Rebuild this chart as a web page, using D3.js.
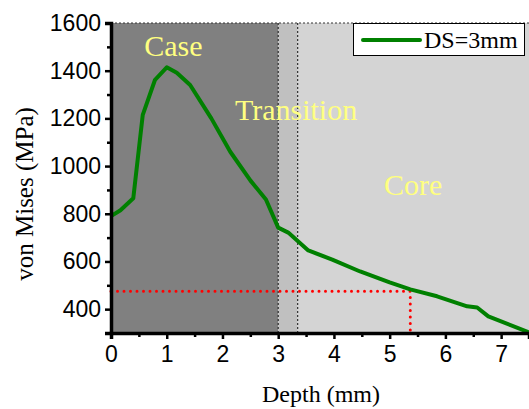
<!DOCTYPE html>
<html>
<head>
<meta charset="utf-8">
<script src="https://cdn.jsdelivr.net/npm/d3@7"></script>
<style>
  body { margin: 0; background: #fff; }
  .tick text { font-family: "Liberation Sans", Arial, sans-serif; }
  .serif { font-family: "Liberation Serif", "Times New Roman", serif; }
</style>
</head>
<body>
<div class="chart"></div>
<script>
// depth (mm) vs von Mises stress (MPa), DS=3mm
const depth = [0, 0.17, 0.4, 0.57, 0.79, 1.0, 1.18, 1.42, 1.8, 2.14, 2.5, 2.78, 3.0, 3.18, 3.36, 3.54, 3.97, 4.47, 5.0, 5.37, 5.85, 6.39, 6.57, 6.77, 7.5];
const stress = [790, 815, 865, 1215, 1362, 1414, 1391, 1340, 1200, 1060, 940, 860, 742, 721, 684, 646, 608, 558, 512, 483, 454, 412, 407, 370, 303];

const zones = [
  { name: 'Case', from: 0, to: 3.0, fill: '#808080' },
  { name: 'Transition', from: 3.0, to: 3.35, fill: '#c0c0c0' },
  { name: 'Core', from: 3.35, to: 7.5, fill: '#d4d4d4' }
];
const zoneLabels = [
  { text: 'Case', x: 1.12, y: 1462 },
  { text: 'Transition', x: 3.32, y: 1195 },
  { text: 'Core', x: 5.42, y: 880 }
];
const markDepth = 5.37, markStress = 475;

const xTicks = [0, 1, 2, 3, 4, 5, 6, 7];
const yTicks = [400, 600, 800, 1000, 1200, 1400, 1600];

const width = 529, height = 409;
const margin = { top: 23, right: 0, bottom: 76, left: 111 };

const svg = d3.select('.chart')
  .append('svg')
  .attr('width', width)
  .attr('height', height);

const x = d3.scaleLinear().domain([0, 7.5]).range([margin.left, width - margin.right]);
const y = d3.scaleLinear().domain([300, 1600]).range([height - margin.bottom, margin.top]);

// zone backgrounds
svg.selectAll('.zone')
  .data(zones)
  .enter().append('rect')
  .attr('class', 'zone')
  .attr('x', d => x(d.from))
  .attr('width', d => x(d.to) - x(d.from))
  .attr('y', y(1600))
  .attr('height', y(300) - y(1600))
  .attr('fill', d => d.fill);

// dotted borders
svg.append('line')
  .attr('x1', x(0)).attr('x2', x(7.5))
  .attr('y1', y(1600)).attr('y2', y(1600))
  .attr('stroke', '#333').attr('stroke-width', 1).attr('stroke-dasharray', '2,2');
svg.selectAll('.zline')
  .data([3.0, 3.35])
  .enter().append('line')
  .attr('x1', d => x(d)).attr('x2', d => x(d))
  .attr('y1', y(1600)).attr('y2', y(300))
  .attr('stroke', '#111').attr('stroke-width', 1).attr('stroke-dasharray', '2,2');

svg.selectAll('.zlabel')
  .data(zoneLabels)
  .enter().append('text')
  .attr('class', 'serif')
  .attr('x', d => x(d.x))
  .attr('y', d => y(d.y))
  .attr('text-anchor', 'middle')
  .attr('font-size', 30)
  .attr('fill', '#ffff80')
  .text(d => d.text);

// red guide lines
svg.append('path')
  .attr('d', `M${x(0)},${y(markStress)}H${x(markDepth)}V${y(300)}`)
  .attr('fill', 'none')
  .attr('stroke', '#ff0000')
  .attr('stroke-width', 3)
  .attr('stroke-linecap', 'round')
  .attr('stroke-dasharray', '0,6.5');

// curve
const line = d3.line()
  .x((d, i) => x(depth[i]))
  .y(d => y(d));
svg.append('path')
  .datum(stress)
  .attr('d', line)
  .attr('fill', 'none')
  .attr('stroke', '#008000')
  .attr('stroke-width', 4)
  .attr('stroke-linejoin', 'round');

// axes
const xAxis = svg.append('g')
  .attr('transform', `translate(0,${y(300)})`)
  .call(d3.axisBottom(x).tickValues(xTicks).tickFormat(d3.format('d')).tickSize(6).tickPadding(7));
const yAxis = svg.append('g')
  .attr('transform', `translate(${x(0)},0)`)
  .call(d3.axisLeft(y).tickValues(yTicks).tickFormat(d3.format('d')).tickSize(6).tickPadding(4));

[xAxis, yAxis].forEach(g => {
  g.select('.domain').attr('stroke-width', 3.5).attr('stroke', '#000');
  g.selectAll('.tick line').attr('stroke-width', 2.5).attr('stroke', '#000');
  g.selectAll('.tick text').attr('font-size', 23).attr('fill', '#000');
});

// minor ticks
svg.append('g')
  .attr('transform', `translate(0,${y(300)})`)
  .call(d3.axisBottom(x).tickValues([0.5, 1.5, 2.5, 3.5, 4.5, 5.5, 6.5]).tickSize(4).tickFormat(''))
  .call(g => g.select('.domain').remove())
  .call(g => g.selectAll('.tick line').attr('stroke-width', 2.5));
svg.append('g')
  .attr('transform', `translate(${x(0)},0)`)
  .call(d3.axisLeft(y).tickValues([300, 500, 700, 900, 1100, 1300, 1500]).tickSize(4).tickFormat(''))
  .call(g => g.select('.domain').remove())
  .call(g => g.selectAll('.tick line').attr('stroke-width', 2.5));

// axis titles
svg.append('text')
  .attr('class', 'serif')
  .attr('x', 321).attr('y', 402)
  .attr('text-anchor', 'middle')
  .attr('font-size', 24)
  .text('Depth (mm)');
svg.append('text')
  .attr('class', 'serif')
  .attr('transform', 'translate(33,194) rotate(-90)')
  .attr('text-anchor', 'middle')
  .attr('font-size', 25)
  .text('von Mises (MPa)');

// legend
const legend = svg.append('g');
legend.append('rect')
  .attr('x', 353.5).attr('y', 23.5).attr('width', 171).attr('height', 32)
  .attr('fill', '#fff').attr('stroke', '#000').attr('stroke-width', 1);
legend.append('line')
  .attr('x1', 363).attr('x2', 420).attr('y1', 40).attr('y2', 40)
  .attr('stroke', '#008000').attr('stroke-width', 4).attr('stroke-linecap', 'round');
legend.append('text')
  .attr('class', 'serif')
  .attr('x', 424).attr('y', 48)
  .attr('font-size', 24)
  .text('DS=3mm');
</script>
</body>
</html>
